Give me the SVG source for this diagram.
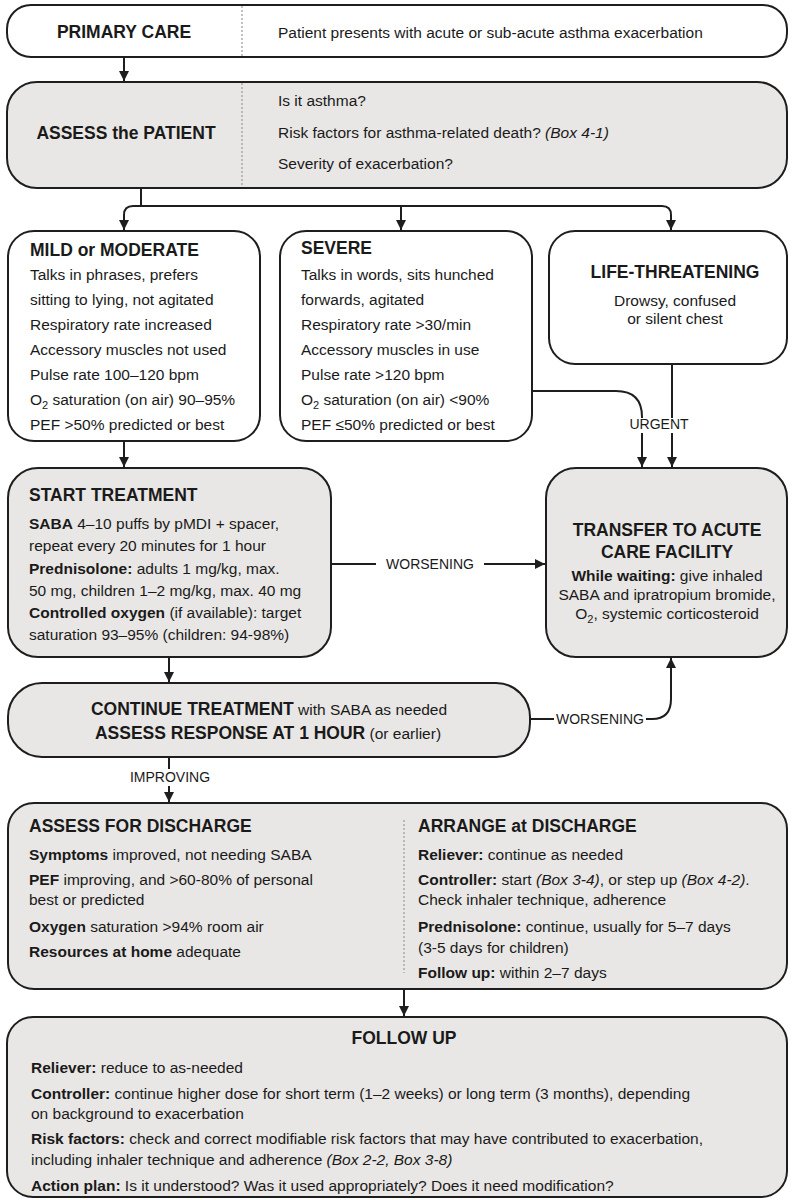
<svg xmlns="http://www.w3.org/2000/svg" width="792" height="1200" viewBox="0 0 792 1200">
<defs>
<marker id="arr" markerUnits="userSpaceOnUse" markerWidth="10" markerHeight="12" viewBox="0 0 10 12" refX="10" refY="6" orient="auto">
<path d="M0,1 L10,6 L0,11 Z" fill="#1e1e1e"/>
</marker>
<style>
.box{stroke:#1e1e1e;stroke-width:2}
.w{fill:#ffffff}
.g{fill:#e9e7e5}
.div{stroke:#9a9a9a;stroke-width:1.2;stroke-dasharray:2,2}
.ln{fill:none;stroke:#1e1e1e;stroke-width:2}
text{font-family:"Liberation Sans",Arial,sans-serif;fill:#1a1a1a}
.t{font-size:17.5px;font-weight:bold}
.b{font-size:15.5px}
.bb{font-weight:bold}
.i{font-style:italic}
.lab{font-size:14px}
.c{text-anchor:middle}
</style>
</defs>
<rect width="792" height="1200" fill="#ffffff"/>

<g id="connectors">
<path class="ln" d="M124,57 V81" marker-end="url(#arr)"/>
<path class="ln" d="M141,188 V206 H133 Q124,206 124,215 V230" marker-end="url(#arr)"/>
<path class="ln" d="M141,206 H662 Q671,206 671,215 V230" marker-end="url(#arr)"/>
<path class="ln" d="M401,206 V230" marker-end="url(#arr)"/>
<path class="ln" d="M124,441 V467" marker-end="url(#arr)"/>
<path class="ln" d="M532,391 H616 Q642,391 642,417 V418"/>
<path class="ln" d="M642,433 V467" marker-end="url(#arr)"/>
<path class="ln" d="M672,364 V418"/>
<path class="ln" d="M672,433 V467" marker-end="url(#arr)"/>
<text class="lab c" x="659" y="429">URGENT</text>
<path class="ln" d="M331,564 H376"/>
<text class="lab c" x="430" y="569">WORSENING</text>
<path class="ln" d="M484,564 H545" marker-end="url(#arr)"/>
<path class="ln" d="M169,657 V682" marker-end="url(#arr)"/>
<path class="ln" d="M530,719 H554"/>
<text class="lab" x="556" y="724">WORSENING</text>
<path class="ln" d="M646,719 H652 Q671,719 671,699 V658" marker-end="url(#arr)"/>
<path class="ln" d="M169,757 V769"/>
<text class="lab c" x="170" y="782">IMPROVING</text>
<path class="ln" d="M169,786 V802" marker-end="url(#arr)"/>
<path class="ln" d="M404,989 V1016" marker-end="url(#arr)"/>
</g>

<g id="primary-care">
<rect class="box w" x="7" y="5" width="780" height="52" rx="24" ry="24"/>
<line class="div" x1="242" y1="6" x2="242" y2="56"/>
<text class="t c" x="124" y="38">PRIMARY CARE</text>
<text class="b" x="278" y="37.5">Patient presents with acute or sub-acute asthma exacerbation</text>
</g>

<g id="assess-patient">
<rect class="box g" x="7" y="82" width="780" height="106" rx="30" ry="30"/>
<line class="div" x1="242" y1="83" x2="242" y2="187"/>
<text class="t c" x="126" y="139">ASSESS the PATIENT</text>
<text class="b" x="278" y="105.5">Is it asthma?</text>
<text class="b" x="278" y="137.5">Risk factors for asthma-related death? <tspan class="i">(Box 4-1)</tspan></text>
<text class="b" x="278" y="168.5">Severity of exacerbation?</text>
</g>

<g id="mild-moderate">
<rect class="box w" x="8" y="231" width="252" height="210" rx="26" ry="26"/>
<text class="t" x="30" y="256">MILD or MODERATE</text>
<text class="b" x="30" y="280">Talks in phrases, prefers</text>
<text class="b" x="30" y="305">sitting to lying, not agitated</text>
<text class="b" x="30" y="330">Respiratory rate increased</text>
<text class="b" x="30" y="355">Accessory muscles not used</text>
<text class="b" x="30" y="380">Pulse rate 100–120 bpm</text>
<text class="b" x="30" y="405">O<tspan font-size="11" dy="4">2</tspan><tspan dy="-4"> saturation (on air) 90–95%</tspan></text>
<text class="b" x="30" y="430">PEF &gt;50% predicted or best</text>
</g>

<g id="severe">
<rect class="box w" x="280" y="231" width="252" height="210" rx="26" ry="26"/>
<text class="t" x="301" y="254">SEVERE</text>
<text class="b" x="301" y="280">Talks in words, sits hunched</text>
<text class="b" x="301" y="305">forwards, agitated</text>
<text class="b" x="301" y="330">Respiratory rate &gt;30/min</text>
<text class="b" x="301" y="355">Accessory muscles in use</text>
<text class="b" x="301" y="380">Pulse rate &gt;120 bpm</text>
<text class="b" x="301" y="405">O<tspan font-size="11" dy="4">2</tspan><tspan dy="-4"> saturation (on air) &lt;90%</tspan></text>
<text class="b" x="301" y="430">PEF ≤50% predicted or best</text>
</g>

<g id="life-threatening">
<rect class="box w" x="549" y="231" width="238" height="133" rx="26" ry="26"/>
<text class="t c" x="675" y="278">LIFE-THREATENING</text>
<text class="b c" x="675" y="305.5">Drowsy, confused</text>
<text class="b c" x="675" y="324">or silent chest</text>
</g>

<g id="start-treatment">
<rect class="box g" x="8" y="468" width="323" height="189" rx="30" ry="30"/>
<text class="t" x="29" y="501">START TREATMENT</text>
<text class="b" x="29" y="529"><tspan class="bb">SABA</tspan>  4–10 puffs by pMDI  + spacer,</text>
<text class="b" x="29" y="551">repeat every 20 minutes for 1 hour</text>
<text class="b" x="29" y="574"><tspan class="bb">Prednisolone:</tspan> adults 1 mg/kg, max.</text>
<text class="b" x="29" y="596">50 mg, children 1–2 mg/kg, max.  40 mg</text>
<text class="b" x="29" y="618"><tspan class="bb">Controlled oxygen</tspan> (if available): target</text>
<text class="b" x="29" y="640">saturation 93–95% (children: 94-98%)</text>
</g>

<g id="transfer">
<rect class="box g" x="546" y="468" width="241" height="189" rx="30" ry="30"/>
<text class="t c" x="667" y="536">TRANSFER TO ACUTE</text>
<text class="t c" x="667" y="558">CARE FACILITY</text>
<text class="b c" x="667" y="580.5"><tspan class="bb">While waiting:</tspan> give inhaled</text>
<text class="b c" x="667" y="600">SABA and ipratropium bromide,</text>
<text class="b c" x="667" y="619">O<tspan font-size="11" dy="4">2</tspan><tspan dy="-4">, systemic corticosteroid</tspan></text>
</g>

<g id="continue-treatment">
<rect class="box g" x="8" y="683" width="522" height="74" rx="34" ry="34"/>
<text class="b c" x="269" y="715"><tspan class="bb" font-size="17.5">CONTINUE TREATMENT</tspan> with SABA as needed</text>
<text class="b c" x="268" y="739"><tspan class="bb" font-size="17.5">ASSESS RESPONSE AT 1 HOUR</tspan> (or earlier)</text>
</g>

<g id="discharge">
<rect class="box g" x="8" y="803" width="779" height="186" rx="26" ry="26"/>
<line class="div" x1="404" y1="820" x2="404" y2="973"/>
<text class="t" x="29" y="832">ASSESS FOR DISCHARGE</text>
<text class="b" x="29" y="859.5"><tspan class="bb">Symptoms</tspan>  improved, not needing SABA</text>
<text class="b" x="29" y="884.5"><tspan class="bb">PEF</tspan> improving, and &gt;60-80% of personal</text>
<text class="b" x="29" y="904.5">best or predicted</text>
<text class="b" x="29" y="931.5"><tspan class="bb">Oxygen</tspan> saturation &gt;94% room air</text>
<text class="b" x="29" y="956.5"><tspan class="bb">Resources at home</tspan> adequate</text>
<text class="t" x="418" y="832">ARRANGE at DISCHARGE</text>
<text class="b" x="418" y="859.5"><tspan class="bb">Reliever:</tspan> continue as needed</text>
<text class="b" x="418" y="884.5"><tspan class="bb">Controller:</tspan> start <tspan class="i">(Box 3-4)</tspan>, or step up <tspan class="i">(Box 4-2)</tspan>.</text>
<text class="b" x="418" y="904.5">Check inhaler technique, adherence</text>
<text class="b" x="418" y="931.5"><tspan class="bb">Prednisolone:</tspan> continue, usually for 5–7 days</text>
<text class="b" x="418" y="952.5">(3-5 days for children)</text>
<text class="b" x="418" y="977.5"><tspan class="bb">Follow up:</tspan> within  2–7 days</text>
</g>

<g id="follow-up">
<rect class="box g" x="7" y="1017" width="780" height="180" rx="26" ry="26"/>
<text class="t c" x="404" y="1044">FOLLOW UP</text>
<text class="b" x="31" y="1072.5"><tspan class="bb">Reliever:</tspan> reduce to as-needed</text>
<text class="b" x="31" y="1098.5"><tspan class="bb">Controller:</tspan> continue higher dose for short term (1–2 weeks) or long term (3 months), depending</text>
<text class="b" x="31" y="1118.5">on background to exacerbation</text>
<text class="b" x="31" y="1143.5"><tspan class="bb">Risk factors:</tspan> check and correct modifiable risk factors that may have contributed to exacerbation,</text>
<text class="b" x="31" y="1164.5">including inhaler technique and adherence <tspan class="i">(Box 2-2, Box 3-8)</tspan></text>
<text class="b" x="31" y="1190.5"><tspan class="bb">Action plan:</tspan> Is it understood? Was it used appropriately? Does it need modification?</text>
</g>
</svg>
